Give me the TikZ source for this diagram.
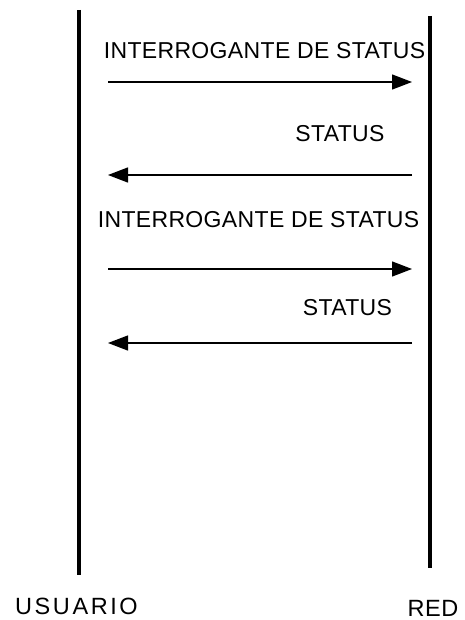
\documentclass[tikz,border=0pt]{standalone}
\usepackage{fontspec}
\setmainfont{Liberation Sans}
\usetikzlibrary{arrows.meta}
\begin{document}
\begin{tikzpicture}[x=1pt,y=-1pt,
  lifeline/.style={line width=4pt},
  msg/.style={line width=1.3pt,-{Triangle[length=20pt,width=15pt]}},
  msglabel/.style={font=\fontsize{23}{26}\selectfont\addfontfeature{LetterSpace=1.5},inner sep=0pt,anchor=base},
  party/.style={font=\fontsize{23.5}{27}\selectfont,inner sep=0pt,anchor=base}]
  \useasboundingbox (0,0) rectangle (464,620);

  % lifelines
  \coordinate (utop) at (79,10);
  \coordinate (ubot) at (79,575);
  \coordinate (rtop) at (430,16);
  \coordinate (rbot) at (430,568);
  \draw[lifeline] (utop) -- (ubot);
  \draw[lifeline] (rtop) -- (rbot);

  % message end points
  \coordinate (a1) at (108,82);  \coordinate (b1) at (412,82);
  \coordinate (a2) at (108,175); \coordinate (b2) at (412,175);
  \coordinate (a3) at (108,269); \coordinate (b3) at (412,269);
  \coordinate (a4) at (108,343); \coordinate (b4) at (412,343);

  \draw[msg] (a1) -- (b1);
  \draw[msg] (b2) -- (a2);
  \draw[msg] (a3) -- (b3);
  \draw[msg] (b4) -- (a4);

  % message labels
  \node[msglabel] (l1) at (264.5,59) {INTERROGANTE DE STATUS};
  \node[msglabel] (l2) at (340,142) {STATUS};
  \node[msglabel] (l3) at (258.5,227) {INTERROGANTE DE STATUS};
  \node[msglabel] (l4) at (347.5,315) {STATUS};

  % participants
  \node[party,font=\fontsize{23.5}{27}\selectfont\addfontfeature{LetterSpace=11}] (usuario) at (76.5,614) {USUARIO};
  \node[party,font=\fontsize{23.5}{27}\selectfont\addfontfeature{LetterSpace=2}] (red) at (433,616) {RED};
\end{tikzpicture}
\end{document}
